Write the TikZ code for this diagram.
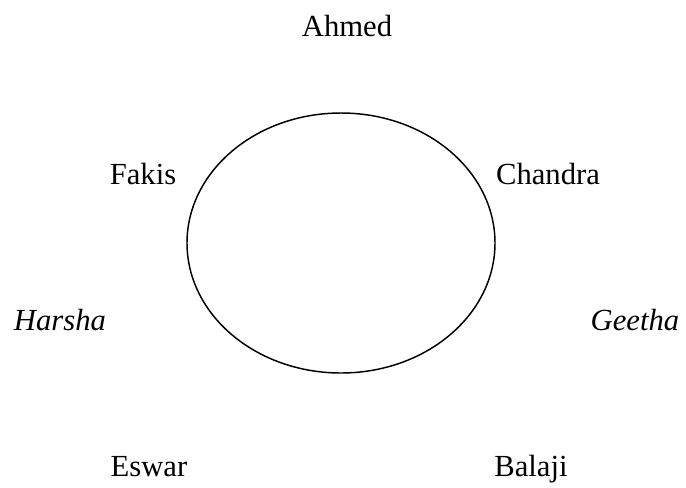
\documentclass[tikz,border=0pt]{standalone}
\usepackage{fontspec}
\setmainfont{Liberation Serif}
\usetikzlibrary{shapes.geometric}

\begin{document}
\begin{tikzpicture}[
  x=0.75pt, y=-0.75pt,
  ring/.style    = {ellipse, draw=black, line width=1.1pt, inner sep=0pt,
                    minimum width=231pt, minimum height=195pt},
  person/.style  = {anchor=base, inner sep=0pt, font=\fontsize{23}{27}\selectfont},
  iperson/.style = {person, font=\fontsize{23}{27}\selectfont\itshape}
]
\useasboundingbox (0,0) rectangle (686,487);

\node[ring] (circ) at (341,243) {};

\node[person]  (ahmed)   at (347,36)  {Ahmed};
\node[person]  (fakis)   at (143,184) {Fakis};
\node[person]  (chandra) at (548,184) {Chandra};
\node[iperson] (harsha)  at (60,330)  {Harsha};
\node[iperson] (geetha)  at (635,330) {Geetha};
\node[person]  (eswar)   at (149,476) {Eswar};
\node[person]  (balaji)  at (531,476) {Balaji};

\end{tikzpicture}
\end{document}
